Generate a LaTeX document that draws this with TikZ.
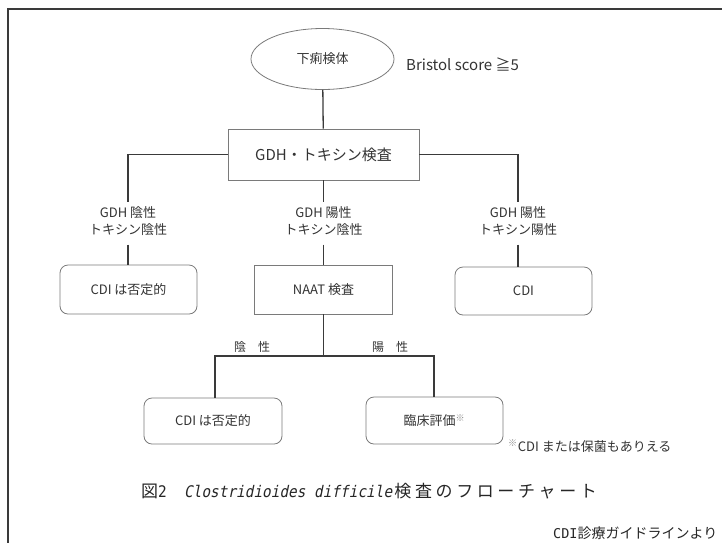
\documentclass[tikz,border=0pt]{standalone}
\usepackage{fontspec}
\setmainfont{Noto Sans CJK JP}
\newfontfamily\monof{DejaVu Sans Mono}
\newfontfamily\monoit[FakeSlant=0.2,FakeStretch=0.9]{DejaVu Sans Mono}
\usetikzlibrary{shapes.geometric}
\definecolor{ink}{HTML}{333333}
\definecolor{edge}{HTML}{7A7A7A}
\definecolor{wire}{HTML}{3A3A3A}
\definecolor{mark}{HTML}{8C8C8C}
\newcommand\cjc[1]{\makebox[20.6pt][c]{#1}}
\begin{document}
\begin{tikzpicture}[x=1pt,y=-1pt,
  txt/.style={font=\fontsize{13}{17}\selectfont, text=ink, align=center},
  sqbox/.style={draw=edge, line width=0.8pt, txt, minimum width=138pt, minimum height=49pt, inner sep=0pt},
  rbox/.style={sqbox, rounded corners=8pt},
  conn/.style={draw=wire, line width=1.3pt},
  lbl/.style={txt, inner xsep=0pt, inner ysep=4pt}]
\useasboundingbox (0,0) rectangle (722,542);
% outer frame
\draw[wire, line width=1.6pt] (8,548) -- (8,9) -- (728,9);

% nodes
\node[ellipse, draw=edge, line width=0.8pt, minimum width=143pt, minimum height=61pt, inner sep=0pt, txt] (spec) at (322.5,59) {下痢検体};
\node[txt, font=\fontsize{15}{17}\selectfont, anchor=west, inner sep=0pt] (bris) at (406,64) {Bristol score ≧5};
\node[sqbox, minimum width=191pt, minimum height=51pt, font=\fontsize{15}{18}\selectfont] (gdh) at (323.5,154.5) {GDH・トキシン検査};

\node[lbl] (l1) at (128,221) {GDH 陰性\\トキシン陰性};
\node[lbl] (l2) at (323.5,221) {GDH 陽性\\トキシン陰性};
\node[lbl] (l3) at (518,221) {GDH 陽性\\トキシン陽性};

\node[rbox, minimum width=137pt] (neg1) at (128.5,289.5) {CDI は否定的};
\node[sqbox] (naat) at (323.5,289.5) {NAAT 検査};
\node[rbox, minimum width=137pt, minimum height=48pt] (cdi) at (523.5,291) {CDI};

\node[txt, font=\fontsize{12}{14}\selectfont] (nl) at (252,347) {陰　性};
\node[txt, font=\fontsize{12}{14}\selectfont] (pl) at (390,347) {陽　性};

\node[rbox, minimum height=46pt] (neg2) at (213,421) {CDI は否定的};
\node[rbox, minimum width=137pt, minimum height=47pt] (evl) at (434.5,420.5) {臨床評価\textsuperscript{\color{mark}※}};

\node[txt, anchor=west, inner sep=0pt] (fn) at (508,446) {\textsuperscript{\color{mark}※}CDI または保菌もありえる};

% caption
\node[anchor=base west, inner sep=0pt, font=\fontsize{17}{19}\selectfont, text=black!85] (cap1) at (141,497) {図{\monoit\fontsize{16}{18}\selectfont\addfontfeatures{FakeSlant=0} 2}};
\node[anchor=base west, inner sep=0pt, font=\monoit\fontsize{16}{18}\selectfont, text=black!85] (cap2) at (184,497) {Clostridioides difficile};
\node[anchor=base west, inner sep=0pt, font=\fontsize{17}{19}\selectfont, text=black!85] (cap3) at (cap2.base east) {\cjc{検}\cjc{査}\cjc{の}\cjc{フ}\cjc{ロ}\cjc{ー}\cjc{チ}\cjc{ャ}\cjc{ー}\cjc{ト}};
\node[anchor=base west, inner sep=0pt, font=\fontsize{14}{16}\selectfont, text=black!85] (src) at (553,538) {{\monof\fontsize{13.5}{16}\selectfont CDI}診療ガイドラインより};

% connectors
\coordinate (jn) at (323.5,356);
\coordinate (jl) at (215,356);
\coordinate (jr) at (434,356);
\draw[conn] (spec) -- (gdh);
\draw[conn] (gdh.west) -| (l1.north);
\draw[conn] (gdh.south) -- (l2.north);
\draw[conn] (gdh.east) -| (l3.north);
\draw[conn, shorten <=5pt] (l1.south) -- (l1.south |- neg1.north);
\draw[conn, shorten <=5pt] (l2.south) -- (l2.south |- naat.north);
\draw[conn, shorten <=5pt] (l3.south) -- (l3.south |- cdi.north);
\draw[conn] (naat.south) -- (jn);
\draw[conn] (jl |- neg2.north) -- (jl) -- (jr) -- (jr |- evl.north);
\end{tikzpicture}
\end{document}
